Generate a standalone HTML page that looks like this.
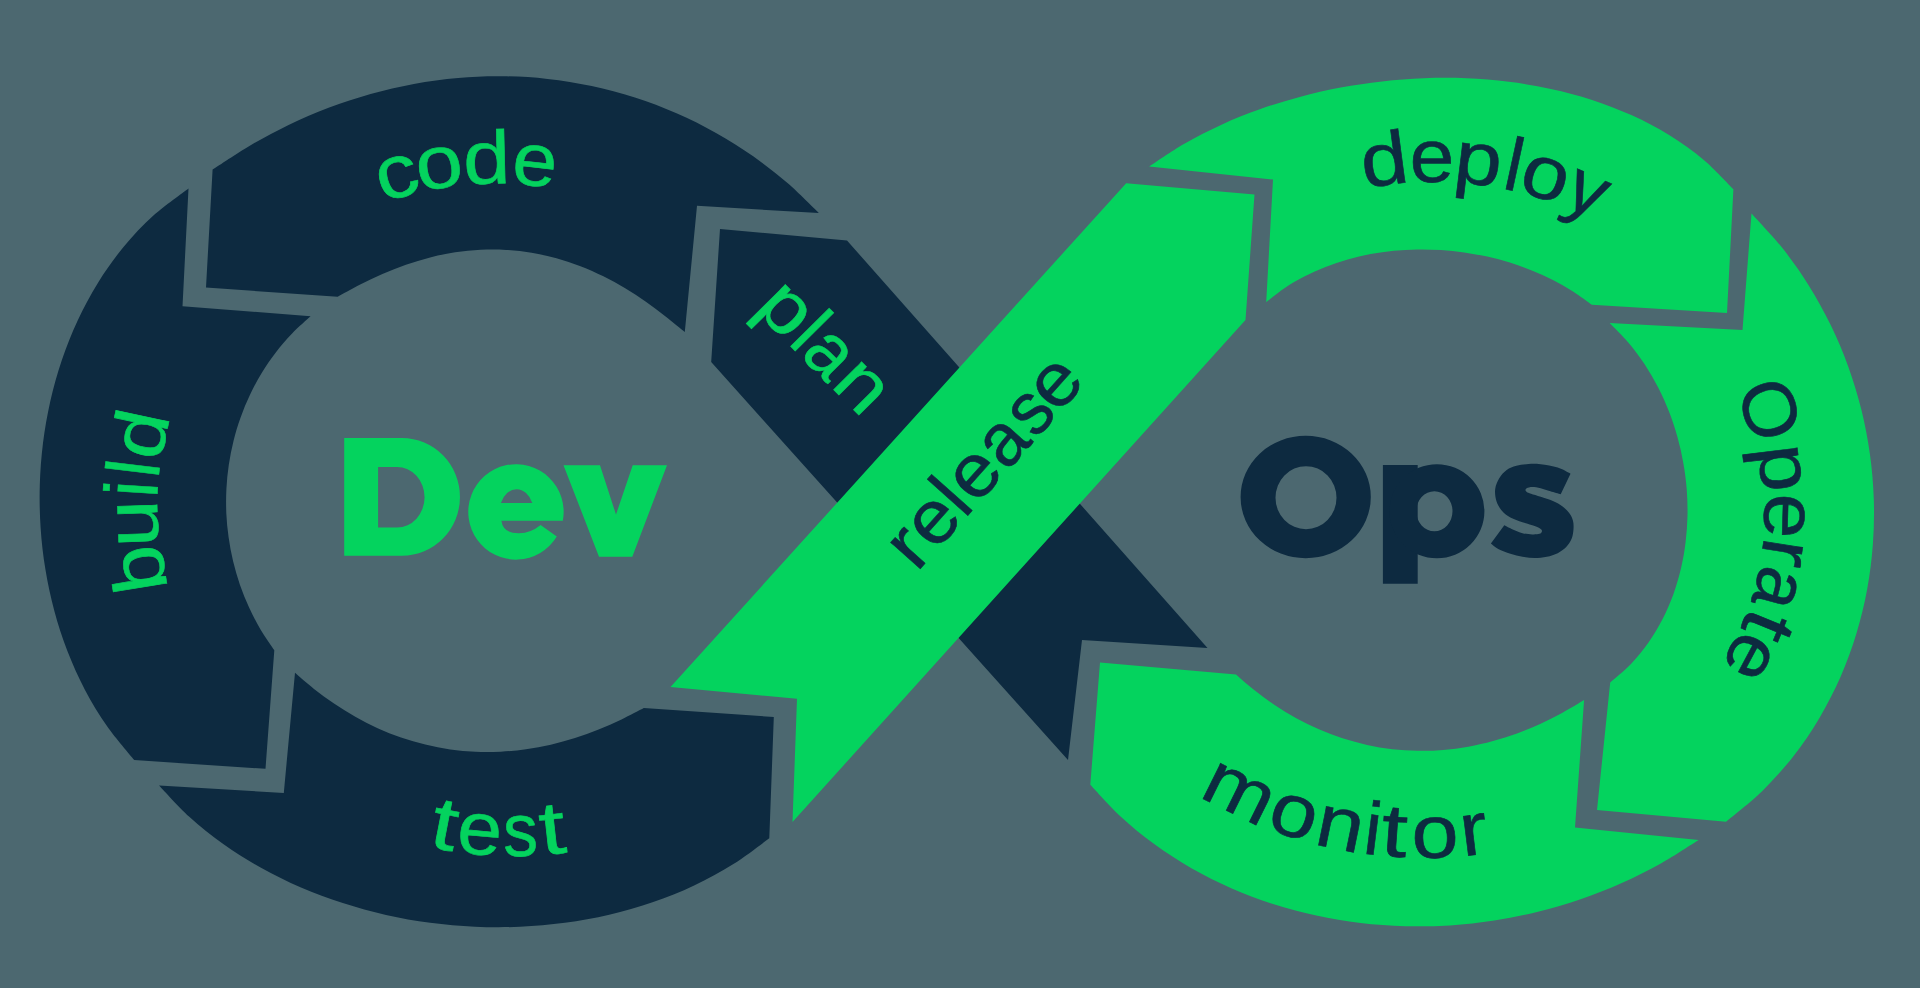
<!DOCTYPE html>
<html><head><meta charset="utf-8"><title>DevOps</title>
<style>html,body{margin:0;padding:0;background:#4c6870;overflow:hidden}svg{display:block}text{font-family:"Liberation Sans",sans-serif}</style>
</head><body>
<svg width="1920" height="988" viewBox="0 0 1920 988">
<rect width="1920" height="988" fill="#4c6870"/>
<path fill="#0d2a40" d="M720.0 229.0 L847.0 240.5 L1207.5 648.0 L1082.0 640.0 L1068.0 760.0 L711.2 362.0Z"/>
<path fill="#0d2a40" d="M212.6 169.5C218.8 165.6 236.9 153.3 249.4 145.9C262.0 138.5 275.0 131.6 288.1 125.2C301.3 118.9 314.9 113.0 328.6 107.8C342.4 102.6 356.4 97.9 370.6 93.9C384.9 89.9 399.4 86.6 413.9 83.9C428.5 81.2 443.3 79.2 458.2 78.0C473.0 76.7 488.0 76.1 502.9 76.3C517.8 76.4 532.7 77.3 547.5 79.0C562.4 80.6 577.2 83.0 591.7 86.1C606.3 89.1 620.7 93.0 634.9 97.5C649.0 102.0 662.9 107.3 676.5 113.2C690.0 119.1 703.3 125.7 716.0 132.9C728.8 140.1 741.3 147.9 753.2 156.3C765.1 164.7 776.6 173.7 787.5 183.1C798.5 192.6 813.6 208.0 818.8 213.0L697.0 205.8L684.8 331.9C681.6 329.3 672.1 321.4 665.6 316.4C659.1 311.4 652.6 306.5 645.9 301.8C639.1 297.1 632.3 292.6 625.2 288.3C618.1 284.1 610.9 280.0 603.4 276.3C596.0 272.7 588.3 269.2 580.5 266.2C572.6 263.2 564.6 260.5 556.5 258.3C548.3 256.0 540.0 254.2 531.6 252.8C523.2 251.4 514.7 250.4 506.2 249.9C497.7 249.4 489.1 249.4 480.6 249.8C472.1 250.2 463.5 251.1 455.1 252.3C446.7 253.6 438.4 255.3 430.1 257.4C421.9 259.5 413.8 262.0 405.9 264.7C397.9 267.5 390.1 270.6 382.4 274.0C374.7 277.3 367.2 281.0 359.7 284.8C352.3 288.6 341.3 294.8 337.7 296.8L206.0 287.5Z"/>
<path fill="#0d2a40" d="M188.5 188.4L182.5 306.2L310.6 316.3C307.5 319.2 297.9 327.4 292.1 333.5C286.3 339.5 280.8 345.9 275.8 352.5C270.7 359.0 266.0 365.9 261.7 373.0C257.4 380.0 253.5 387.3 250.0 394.7C246.4 402.2 243.3 409.8 240.6 417.5C237.8 425.1 235.5 433.0 233.5 440.9C231.6 448.7 230.0 456.7 228.8 464.7C227.6 472.7 226.8 480.8 226.4 488.9C226.0 497.0 226.0 505.1 226.3 513.2C226.7 521.2 227.4 529.3 228.6 537.3C229.7 545.4 231.2 553.4 233.1 561.2C235.0 569.1 237.3 577.0 239.9 584.7C242.6 592.4 245.6 600.0 249.1 607.5C252.5 614.9 256.3 622.3 260.5 629.4C264.7 636.5 272.0 646.7 274.3 650.2L265.5 768.8L134.3 760.1C129.8 754.5 115.5 738.2 107.3 726.5C99.1 714.8 91.7 702.5 85.0 689.9C78.4 677.3 72.5 664.2 67.4 651.0C62.3 637.8 57.9 624.3 54.3 610.7C50.6 597.0 47.7 583.2 45.4 569.3C43.1 555.4 41.5 541.4 40.6 527.4C39.7 513.3 39.4 499.2 39.8 485.2C40.2 471.1 41.3 457.0 43.0 443.0C44.8 429.0 47.2 415.1 50.3 401.2C53.4 387.4 57.2 373.7 61.8 360.2C66.4 346.7 71.6 333.3 77.7 320.4C83.8 307.4 90.6 294.6 98.2 282.4C105.9 270.1 114.3 258.2 123.5 247.0C132.8 235.9 142.8 225.1 153.7 215.3C164.5 205.6 182.7 192.9 188.5 188.4Z"/>
<path fill="#0d2a40" d="M159.0 785.4L283.8 793.0L295.0 672.7C298.1 675.4 307.5 683.7 314.0 688.9C320.5 694.0 327.2 699.0 334.0 703.6C340.9 708.3 348.0 712.7 355.3 716.8C362.5 720.9 370.0 724.7 377.6 728.2C385.3 731.6 393.1 734.8 401.0 737.5C409.0 740.2 417.1 742.6 425.3 744.6C433.5 746.6 441.8 748.2 450.2 749.4C458.5 750.6 467.0 751.4 475.5 751.8C483.9 752.2 492.4 752.1 500.8 751.7C509.2 751.3 517.7 750.5 526.0 749.3C534.3 748.2 542.6 746.6 550.8 744.7C558.9 742.8 567.0 740.6 575.0 738.0C583.0 735.5 590.8 732.6 598.6 729.6C606.3 726.5 613.9 723.1 621.5 719.5C629.0 715.9 640.1 710.0 643.8 708.1L773.8 717.0L769.3 838.2C763.3 842.5 745.9 856.2 733.4 864.0C720.8 871.9 707.6 879.0 694.1 885.4C680.7 891.8 666.7 897.4 652.5 902.2C638.4 907.1 623.8 911.2 609.2 914.7C594.6 918.1 579.7 920.8 564.9 922.8C550.0 924.8 535.0 926.1 520.0 926.8C505.0 927.4 489.9 927.4 475.0 926.7C460.0 926.1 445.0 924.7 430.2 922.8C415.4 920.8 400.6 918.2 386.0 914.9C371.5 911.6 357.0 907.7 342.8 903.1C328.6 898.6 314.6 893.3 301.0 887.5C287.3 881.6 273.9 875.0 261.0 867.8C248.1 860.6 235.5 852.7 223.6 844.2C211.6 835.7 200.0 826.5 189.3 816.7C178.5 806.9 164.1 790.6 159.0 785.4Z"/>
<path fill="#04d35e" d="M670.5 687.0 L797.0 698.8 L792.5 822.0 L1245.5 320.0 L1254.5 194.5 L1126.2 183.2Z"/>
<path fill="#04d35e" d="M1149.1 166.5C1154.9 162.7 1171.9 150.8 1183.9 143.9C1195.9 137.0 1208.4 130.7 1221.0 124.9C1233.7 119.1 1246.7 113.9 1259.8 109.3C1272.9 104.6 1286.2 100.5 1299.7 96.9C1313.2 93.3 1326.8 90.2 1340.6 87.6C1354.3 85.0 1368.2 83.0 1382.1 81.4C1396.0 79.8 1410.0 78.8 1424.1 78.3C1438.1 77.7 1452.3 77.7 1466.4 78.3C1480.5 78.9 1494.7 80.0 1508.8 81.8C1522.8 83.5 1536.9 85.8 1550.8 88.9C1564.7 91.9 1578.6 95.5 1592.1 99.9C1605.6 104.4 1619.0 109.4 1631.9 115.3C1644.9 121.2 1657.6 127.8 1669.5 135.2C1681.5 142.7 1693.1 150.9 1703.8 159.9C1714.4 168.8 1728.5 184.3 1733.4 189.2L1727.0 313.0L1591.8 304.8C1588.7 302.6 1579.5 295.7 1573.0 291.6C1566.5 287.4 1559.8 283.6 1552.9 280.1C1546.0 276.6 1539.0 273.4 1531.8 270.5C1524.6 267.5 1517.3 264.9 1509.8 262.6C1502.4 260.3 1494.9 258.3 1487.3 256.6C1479.6 254.9 1471.9 253.5 1464.2 252.4C1456.5 251.2 1448.7 250.4 1440.9 250.0C1433.1 249.5 1425.2 249.3 1417.4 249.4C1409.5 249.6 1401.7 250.0 1393.9 250.8C1386.1 251.6 1378.3 252.7 1370.6 254.1C1362.9 255.6 1355.2 257.3 1347.7 259.5C1340.2 261.6 1332.8 264.1 1325.5 267.0C1318.3 269.8 1311.2 273.0 1304.3 276.6C1297.4 280.1 1290.7 284.1 1284.4 288.3C1278.0 292.6 1269.2 299.9 1266.2 302.3L1273.0 179.5Z"/>
<path fill="#04d35e" d="M1751.5 213.5C1756.6 219.2 1772.7 235.9 1782.2 247.8C1791.7 259.8 1800.6 272.3 1808.6 285.2C1816.7 298.1 1824.1 311.4 1830.7 325.0C1837.3 338.6 1843.2 352.5 1848.3 366.7C1853.4 380.8 1857.8 395.3 1861.4 409.8C1865.0 424.4 1867.8 439.2 1869.9 454.0C1872.0 468.9 1873.3 483.9 1873.8 498.9C1874.3 513.9 1874.0 529.0 1872.9 544.0C1871.8 559.1 1870.0 574.1 1867.2 589.0C1864.5 603.9 1860.9 618.8 1856.5 633.3C1852.1 647.9 1846.8 662.4 1840.7 676.5C1834.5 690.5 1827.5 704.4 1819.6 717.7C1811.7 731.0 1803.0 744.0 1793.4 756.2C1783.8 768.5 1773.3 780.3 1762.1 791.2C1750.8 802.2 1732.0 816.7 1726.0 821.7L1597.0 810.0L1610.2 682.5C1613.7 679.4 1624.6 670.6 1631.0 664.0C1637.4 657.3 1643.2 650.1 1648.5 642.6C1653.7 635.1 1658.4 627.2 1662.6 619.1C1666.7 611.0 1670.3 602.6 1673.4 594.2C1676.4 585.7 1679.0 577.0 1681.0 568.3C1683.0 559.6 1684.6 550.8 1685.6 542.0C1686.7 533.2 1687.3 524.3 1687.5 515.5C1687.6 506.7 1687.4 497.9 1686.7 489.1C1686.0 480.4 1684.9 471.6 1683.3 463.0C1681.8 454.3 1679.9 445.7 1677.5 437.2C1675.1 428.7 1672.4 420.3 1669.2 412.1C1666.0 403.8 1662.4 395.6 1658.3 387.7C1654.2 379.8 1649.7 372.0 1644.8 364.5C1639.8 357.0 1634.4 349.7 1628.5 342.7C1622.7 335.8 1612.7 326.3 1609.6 323.0L1742.5 330.0Z"/>
<path fill="#04d35e" d="M1698.7 840.0C1692.5 843.8 1674.1 856.0 1661.3 863.2C1648.5 870.4 1635.3 877.0 1621.8 883.0C1608.4 889.0 1594.6 894.4 1580.6 899.2C1566.7 904.0 1552.4 908.2 1538.0 911.7C1523.6 915.3 1509.0 918.2 1494.3 920.5C1479.7 922.8 1464.8 924.4 1450.0 925.4C1435.1 926.3 1420.1 926.6 1405.2 926.2C1390.3 925.8 1375.3 924.8 1360.5 923.0C1345.7 921.2 1330.9 918.8 1316.3 915.6C1301.7 912.4 1287.2 908.6 1273.0 904.0C1258.8 899.4 1244.8 894.1 1231.2 888.2C1217.6 882.2 1204.2 875.5 1191.4 868.2C1178.6 860.8 1166.1 852.8 1154.2 844.1C1142.4 835.5 1131.0 826.1 1120.3 816.2C1109.6 806.4 1095.3 790.0 1090.3 784.8L1100.0 662.5L1236.0 674.5C1239.1 677.2 1248.4 685.5 1254.9 690.6C1261.4 695.7 1268.0 700.6 1275.0 705.3C1281.9 709.9 1289.0 714.2 1296.3 718.2C1303.6 722.3 1311.2 726.0 1318.9 729.3C1326.6 732.7 1334.5 735.7 1342.5 738.3C1350.6 740.9 1358.8 743.1 1367.1 745.0C1375.3 746.8 1383.8 748.2 1392.2 749.2C1400.6 750.1 1409.1 750.7 1417.6 750.8C1426.1 751.0 1434.7 750.7 1443.1 750.0C1451.5 749.3 1460.0 748.2 1468.3 746.7C1476.6 745.2 1484.9 743.4 1493.0 741.1C1501.1 738.9 1509.1 736.3 1517.0 733.5C1524.8 730.6 1532.6 727.3 1540.1 723.9C1547.7 720.4 1555.2 716.6 1562.5 712.7C1569.8 708.7 1580.5 702.1 1584.1 700.0L1575.0 827.5Z"/>
<text transform="translate(398.00 177.20) rotate(-16.11) translate(-21.87 20.00) scale(1.130 1)" font-size="75.0" fill="#04d35e" stroke="#04d35e" stroke-width="0.60">c</text>
<text transform="translate(439.40 167.93) rotate(-9.14) translate(-23.57 20.00) scale(1.130 1)" font-size="75.0" fill="#04d35e" stroke="#04d35e" stroke-width="0.60">o</text>
<text transform="translate(485.90 163.61) rotate(-1.46) translate(-22.62 20.00) scale(1.130 1)" font-size="75.0" fill="#04d35e" stroke="#04d35e" stroke-width="0.60">d</text>
<text transform="translate(534.70 165.79) rotate(6.57) translate(-22.24 20.00) scale(1.070 1)" font-size="75.0" fill="#04d35e" stroke="#04d35e" stroke-width="0.60">e</text>
<text transform="translate(444.50 829.44) rotate(11.05) translate(-13.39 20.00) scale(1.250 1)" font-size="75.0" fill="#04d35e" stroke="#04d35e" stroke-width="0.60">t</text>
<text transform="translate(479.60 834.51) rotate(5.39) translate(-22.24 20.00) scale(1.070 1)" font-size="75.0" fill="#04d35e" stroke="#04d35e" stroke-width="0.60">e</text>
<text transform="translate(520.20 836.04) rotate(-1.08) translate(-17.15 20.00) scale(0.930 1)" font-size="75.0" fill="#04d35e" stroke="#04d35e" stroke-width="0.60">s</text>
<text transform="translate(553.00 833.91) rotate(-6.32) translate(-13.39 20.00) scale(1.250 1)" font-size="75.0" fill="#04d35e" stroke="#04d35e" stroke-width="0.60">t</text>
<text transform="translate(144.06 567.80) rotate(-99.20) translate(-24.52 20.00) scale(1.130 1)" font-size="75.0" fill="#04d35e" stroke="#04d35e" stroke-width="0.60">b</text>
<text transform="translate(137.78 523.40) rotate(-92.01) translate(-23.50 20.00) scale(1.130 1)" font-size="75.0" fill="#04d35e" stroke="#04d35e" stroke-width="0.60">u</text>
<text transform="translate(137.64 489.10) rotate(-86.45) translate(-8.31 20.00) scale(1.000 1)" font-size="75.0" fill="#04d35e" stroke="#04d35e" stroke-width="0.60">i</text>
<text transform="translate(139.47 468.90) rotate(-83.18) translate(-8.35 20.00) scale(1.000 1)" font-size="75.0" fill="#04d35e" stroke="#04d35e" stroke-width="0.60">l</text>
<text transform="translate(145.56 436.00) rotate(-77.85) translate(-22.62 20.00) scale(1.130 1)" font-size="75.0" fill="#04d35e" stroke="#04d35e" stroke-width="0.60">d</text>
<text transform="translate(1383.80 165.08) rotate(-7.56) translate(-22.62 20.00) scale(1.130 1)" font-size="75.0" fill="#0d2a40" stroke="#0d2a40" stroke-width="0.60">d</text>
<text transform="translate(1431.90 161.80) rotate(-0.24) translate(-22.24 20.00) scale(1.070 1)" font-size="75.0" fill="#0d2a40" stroke="#0d2a40" stroke-width="0.60">e</text>
<text transform="translate(1479.00 164.55) rotate(6.92) translate(-24.52 20.00) scale(1.130 1)" font-size="75.0" fill="#0d2a40" stroke="#0d2a40" stroke-width="0.60">p</text>
<text transform="translate(1513.50 170.37) rotate(12.23) translate(-8.35 20.00) scale(1.000 1)" font-size="75.0" fill="#0d2a40" stroke="#0d2a40" stroke-width="0.60">l</text>
<text transform="translate(1545.00 178.63) rotate(17.17) translate(-23.57 20.00) scale(1.130 1)" font-size="75.0" fill="#0d2a40" stroke="#0d2a40" stroke-width="0.60">o</text>
<text transform="translate(1586.70 194.26) rotate(23.92) translate(-19.14 20.00) scale(1.020 1)" font-size="75.0" fill="#0d2a40" stroke="#0d2a40" stroke-width="0.60">y</text>
<text transform="translate(1764.22 411.50) rotate(71.95) translate(-30.32 20.00) scale(1.040 1)" font-size="75.0" fill="#0d2a40" stroke="#0d2a40" stroke-width="0.60">O</text>
<text transform="translate(1780.24 469.00) rotate(82.82) translate(-24.52 20.00) scale(1.130 1)" font-size="75.0" fill="#0d2a40" stroke="#0d2a40" stroke-width="0.60">p</text>
<text transform="translate(1784.30 515.90) rotate(91.68) translate(-22.24 20.00) scale(1.070 1)" font-size="75.0" fill="#0d2a40" stroke="#0d2a40" stroke-width="0.60">e</text>
<text transform="translate(1781.88 554.50) rotate(98.98) translate(-15.79 20.00) scale(1.100 1)" font-size="75.0" fill="#0d2a40" stroke="#0d2a40" stroke-width="0.60">r</text>
<text transform="translate(1775.21 589.00) rotate(105.50) translate(-21.78 20.00) scale(0.970 1)" font-size="75.0" fill="#0d2a40" stroke="#0d2a40" stroke-width="0.60">a</text>
<text transform="translate(1763.58 624.50) rotate(112.21) translate(-13.39 20.00) scale(1.250 1)" font-size="75.0" fill="#0d2a40" stroke="#0d2a40" stroke-width="0.60">t</text>
<text transform="translate(1748.67 656.00) rotate(118.16) translate(-22.24 20.00) scale(1.070 1)" font-size="75.0" fill="#0d2a40" stroke="#0d2a40" stroke-width="0.60">e</text>
<text transform="translate(1238.40 794.12) rotate(26.37) translate(-35.32 20.00) scale(1.130 1)" font-size="75.0" fill="#0d2a40" stroke="#0d2a40" stroke-width="0.60">m</text>
<text transform="translate(1293.30 816.65) rotate(18.25) translate(-23.57 20.00) scale(1.130 1)" font-size="75.0" fill="#0d2a40" stroke="#0d2a40" stroke-width="0.60">o</text>
<text transform="translate(1339.90 829.08) rotate(11.64) translate(-23.63 20.00) scale(1.130 1)" font-size="75.0" fill="#0d2a40" stroke="#0d2a40" stroke-width="0.60">n</text>
<text transform="translate(1372.50 834.47) rotate(7.12) translate(-8.31 20.00) scale(1.000 1)" font-size="75.0" fill="#0d2a40" stroke="#0d2a40" stroke-width="0.60">i</text>
<text transform="translate(1394.50 836.63) rotate(4.10) translate(-13.39 20.00) scale(1.250 1)" font-size="75.0" fill="#0d2a40" stroke="#0d2a40" stroke-width="0.60">t</text>
<text transform="translate(1435.10 837.56) rotate(-1.46) translate(-23.57 20.00) scale(1.130 1)" font-size="75.0" fill="#0d2a40" stroke="#0d2a40" stroke-width="0.60">o</text>
<text transform="translate(1476.00 834.51) rotate(-7.08) translate(-15.79 20.00) scale(1.100 1)" font-size="75.0" fill="#0d2a40" stroke="#0d2a40" stroke-width="0.60">r</text>
<text transform="translate(784.73 311.98) rotate(45.30) translate(-24.52 20.00) scale(1.130 1)" font-size="75.0" fill="#04d35e" stroke="#04d35e" stroke-width="0.60">p</text>
<text transform="translate(807.10 334.58) rotate(45.30) translate(-8.35 20.00) scale(1.000 1)" font-size="75.0" fill="#04d35e" stroke="#04d35e" stroke-width="0.60">l</text>
<text transform="translate(828.84 356.55) rotate(45.30) translate(-21.78 20.00) scale(0.970 1)" font-size="75.0" fill="#04d35e" stroke="#04d35e" stroke-width="0.60">a</text>
<text transform="translate(860.28 388.32) rotate(45.30) translate(-23.63 20.00) scale(1.130 1)" font-size="75.0" fill="#04d35e" stroke="#04d35e" stroke-width="0.60">n</text>
<text transform="translate(912.12 547.97) rotate(-48.30) translate(-15.79 20.00) scale(1.100 1)" font-size="75.0" fill="#0d2a40" stroke="#0d2a40" stroke-width="0.60">r</text>
<text transform="translate(935.01 522.28) rotate(-48.30) translate(-22.24 20.00) scale(1.070 1)" font-size="75.0" fill="#0d2a40" stroke="#0d2a40" stroke-width="0.60">e</text>
<text transform="translate(955.16 499.66) rotate(-48.30) translate(-8.35 20.00) scale(1.000 1)" font-size="75.0" fill="#0d2a40" stroke="#0d2a40" stroke-width="0.60">l</text>
<text transform="translate(976.32 475.92) rotate(-48.30) translate(-22.24 20.00) scale(1.070 1)" font-size="75.0" fill="#0d2a40" stroke="#0d2a40" stroke-width="0.60">e</text>
<text transform="translate(1006.25 442.32) rotate(-48.30) translate(-21.78 20.00) scale(0.970 1)" font-size="75.0" fill="#0d2a40" stroke="#0d2a40" stroke-width="0.60">a</text>
<text transform="translate(1031.87 413.57) rotate(-48.30) translate(-17.15 20.00) scale(0.930 1)" font-size="75.0" fill="#0d2a40" stroke="#0d2a40" stroke-width="0.60">s</text>
<text transform="translate(1057.34 384.98) rotate(-48.30) translate(-22.24 20.00) scale(1.070 1)" font-size="75.0" fill="#0d2a40" stroke="#0d2a40" stroke-width="0.60">e</text>
<path fill="#04d35e" fill-rule="evenodd" d="M344.2 438.1H402A58 58.85 0 0 1 402 555.8H344.2Z M378.1 467H397A27.6 30.25 0 0 1 397 527.5H378.1Z"/>
<path fill="#04d35e" fill-rule="evenodd" d="M562.8 520.8L501.4 520.8Q503 533.5 519 533.3Q531 533 540.6 525L556.8 536.6A47.7 47.7 0 1 1 562.84 520.8Z M500.9 503.1A16.9 22.05 0 0 1 532.3 503.1Z"/>
<path fill="#04d35e" d="M563.5 465.2L600 465.2L616 514.6L632.7 465.2L667 465.2L632.3 556.7L599 556.7Z"/>
<path fill="#0d2a40" fill-rule="evenodd" d="M1240.6 497A65.1 61.25 0 1 1 1370.8 497A65.1 61.25 0 1 1 1240.6 497Z M1275.5 497.7A30.5 31.5 0 1 0 1336.5 497.7A30.5 31.5 0 1 0 1275.5 497.7Z"/>
<path fill="#0d2a40" fill-rule="evenodd" d="M1382.9 465H1417.7V583.75H1382.9Z"/>
<path fill="#0d2a40" fill-rule="evenodd" d="M1389.4 511.25A47.5 47.05 0 1 1 1484.4 511.25A47.5 47.05 0 1 1 1389.4 511.25Z M1416.3 511.25A18.1 20 0 1 0 1452.5 511.25A18.1 20 0 1 0 1416.3 511.25Z"/>
<path fill="#0d2a40" d="M1570.5 473.7C1568.4 472.7 1562.7 469.2 1557.7 467.6C1552.7 466.0 1545.6 464.9 1540.7 464.3C1535.8 463.7 1532.6 463.8 1528.6 464.0C1524.5 464.2 1520.1 464.8 1516.4 465.8C1512.8 466.8 1509.5 468.0 1506.7 470.0C1503.9 472.0 1501.3 474.8 1499.4 477.9C1497.5 481.0 1495.7 485.0 1495.2 488.9C1494.7 492.8 1495.3 497.4 1496.4 501.0C1497.5 504.6 1499.6 508.0 1501.9 510.7C1504.2 513.4 1507.0 515.5 1510.4 517.4C1513.8 519.3 1518.5 520.8 1522.5 522.2C1526.5 523.6 1531.6 524.8 1534.6 525.9C1537.6 527.0 1539.5 528.0 1540.7 528.9C1541.9 529.8 1542.1 530.6 1541.9 531.4C1541.7 532.2 1541.1 533.3 1539.5 533.8C1537.9 534.3 1535.0 534.5 1532.2 534.4C1529.4 534.3 1525.7 534.0 1522.5 533.2C1519.3 532.4 1515.8 530.8 1512.8 529.5C1509.8 528.2 1505.7 526.0 1504.3 525.3L1490.9 543.5C1492.1 544.4 1495.0 547.3 1498.2 549.0C1501.5 550.7 1506.4 552.5 1510.4 553.8C1514.5 555.1 1518.5 556.1 1522.5 556.8C1526.5 557.5 1530.5 558.1 1534.6 558.1C1538.6 558.1 1542.9 557.6 1546.8 556.8C1550.7 556.0 1554.5 554.8 1557.7 553.2C1560.9 551.6 1563.9 549.5 1566.2 547.1C1568.5 544.7 1570.5 541.6 1571.7 538.6C1572.9 535.6 1573.3 531.9 1573.5 528.9C1573.7 525.9 1573.6 523.0 1572.9 520.4C1572.2 517.8 1570.9 515.4 1569.2 513.1C1567.5 510.8 1565.3 508.5 1562.6 506.5C1559.9 504.5 1556.6 502.6 1552.9 501.0C1549.2 499.4 1544.4 497.9 1540.7 496.7C1537.0 495.5 1533.3 494.5 1531.0 493.7C1528.7 492.9 1527.6 492.5 1526.7 491.9C1525.8 491.3 1525.5 490.7 1525.5 490.1C1525.5 489.5 1525.6 488.7 1526.7 488.2C1527.8 487.7 1529.9 487.0 1532.2 487.0C1534.5 487.0 1537.7 487.5 1540.7 488.2C1543.7 488.9 1547.1 490.3 1550.4 491.3C1553.7 492.3 1559.0 493.8 1560.7 494.3Z"/>
</svg>
</body></html>
